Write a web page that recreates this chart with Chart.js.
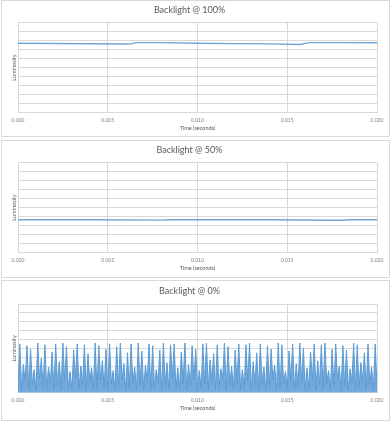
<!DOCTYPE html>
<html>
<head>
<meta charset="utf-8">
<script src="https://cdn.jsdelivr.net/npm/chart.js@4"></script>
<style>
    html, body { margin: 0; padding: 0; background: #fff; }
    .panel { position: absolute; left: 1px; width: 389px; box-sizing: border-box; border: 1px solid #d9d9d9; background: #fff; }
    .panel canvas { display: block; }
</style>
</head>
<body>
<div class="panel" style="top:0px;height:137px;"><canvas id="chart100"></canvas></div>
<div class="panel" style="top:140px;height:138px;"><canvas id="chart50"></canvas></div>
<div class="panel" style="top:280px;height:141px;"><canvas id="chart0"></canvas></div>
<script>
// x ticks shown on every panel
const xTicks = [0, 0.005, 0.010, 0.015, 0.020];

// Backlight @ 100% - nearly flat line
const t100 = [0, 0.002, 0.004, 0.006, 0.0063, 0.0066, 0.008, 0.010, 0.012, 0.014, 0.0157, 0.0162, 0.018, 0.020];
const lum100 = [7.73, 7.70, 7.67, 7.64, 7.66, 7.79, 7.79, 7.72, 7.68, 7.65, 7.58, 7.79, 7.79, 7.78];

// Backlight @ 50%
const t50 = [0, 0.004, 0.008, 0.0085, 0.010, 0.014, 0.0175, 0.018, 0.0185, 0.020];
const lum50 = [3.63, 3.62, 3.58, 3.62, 3.63, 3.62, 3.56, 3.57, 3.62, 3.63];

// Backlight @ 0% - flicker, sampled every 0.0001 s
const dt0 = 0.0001;
const lum0 = [
    0.5, 5.5, 0.3, 3.2, 1.2, 5.3, 0.4, 4.9, 0.9, 2.6, 0.3, 5.6, 1.5, 3.9, 0.5, 5.4, 0.3, 2.9, 1.1, 4.6,
    0.4, 5.5, 0.8, 3.5, 0.3, 5.6, 1.3, 5.2, 0.5, 2.4, 0.3, 4.8, 1.6, 5.5, 0.4, 3.0, 0.9, 5.4, 0.3, 4.4,
    1.2, 2.8, 0.4, 5.6, 0.3, 5.3, 1.4, 3.6, 0.5, 4.9, 0.3, 5.5, 1.0, 2.5, 0.4, 5.2, 0.6, 5.6, 1.5, 3.3,
    0.3, 4.5, 0.5, 5.5, 1.1, 2.9, 0.3, 5.6, 0.8, 4.7, 0.4, 3.1, 1.3, 5.5, 0.3, 5.3, 0.6, 2.6, 1.2, 4.8,
    0.3, 5.6, 0.9, 3.4, 0.4, 5.4, 1.6, 5.5, 0.3, 2.8, 0.5, 4.6, 1.1, 5.6, 0.3, 3.2, 0.7, 5.3, 1.4, 4.9,
    0.3, 2.5, 0.5, 5.5, 1.0, 5.6, 0.4, 3.7, 1.3, 4.4, 0.3, 5.4, 0.6, 2.7, 1.5, 5.6, 0.3, 5.2, 0.8, 3.0,
    0.4, 4.8, 1.2, 5.5, 0.3, 2.6, 0.5, 5.4, 1.4, 5.6, 0.3, 3.5, 0.9, 4.5, 0.4, 5.5, 1.1, 2.9, 0.3, 5.3,
    0.6, 4.9, 1.5, 3.1, 0.3, 5.6, 0.5, 5.4, 1.0, 2.4, 0.4, 4.7, 1.3, 5.5, 0.3, 3.3, 0.7, 5.6, 1.2, 5.0,
    0.3, 2.8, 0.5, 4.6, 1.4, 5.5, 0.3, 3.6, 0.9, 5.4, 0.4, 5.6, 1.1, 2.5, 0.3, 4.9, 0.6, 5.5, 1.5, 3.0,
    0.3, 5.3, 0.8, 4.8, 0.4, 2.7, 1.2, 5.6, 0.3, 5.4, 0.5, 3.4, 1.3, 4.5, 0.3, 5.5, 0.9, 2.9, 0.4, 5.5,
    0.6
];
const t0 = lum0.map((v, i) => i * dt0);

const blue = '#5b9bd5';
const gridGray = '#d9d9d9';
const fontFam = 'Lato, "Open Sans", sans-serif';

function makeChart(id, title, xs, ys, extra) {
    const points = xs.map((x, i) => ({ x: x, y: ys[i] }));
    return new Chart(document.getElementById(id), {
        type: 'line',
        data: {
            datasets: [Object.assign({
                data: points,
                borderColor: '#6fa5d8',
                borderWidth: 1.4,
                pointRadius: 0,
                tension: 0,
                fill: false,
            }, extra.dataset)],
        },
        options: {
            responsive: true,
            maintainAspectRatio: false,
            animation: false,
            layout: {
                padding: { left: 0, right: 12, top: 0, bottom: extra.bottomPad }
            },
            plugins: {
                legend: { display: false },
                tooltip: { enabled: false },
                title: {
                    display: true,
                    text: title,
                    color: '#595959',
                    font: { family: fontFam, size: 9, weight: 'normal', lineHeight: 1.2 },
                    padding: { top: extra.titleTop, bottom: extra.chartTop - extra.titleTop - 10.8 }
                }
            },
            scales: {
                x: {
                    type: 'linear',
                    min: 0,
                    max: 0.02,
                    afterBuildTicks: axis => { axis.ticks = xTicks.map(v => ({ value: v })); },
                    afterFit: axis => { axis.height = 24; },
                    ticks: {
                        color: '#7f7f7f',
                        font: { family: fontFam, size: 5 },
                        padding: 5,
                        maxRotation: 0,
                        callback: v => v.toFixed(3)
                    },
                    grid: { color: gridGray, drawTicks: false },
                    border: { color: gridGray },
                    title: {
                        display: true,
                        text: 'Time (seconds)',
                        color: '#595959',
                        font: { family: fontFam, size: 5.5, lineHeight: 1.2 },
                        padding: { top: 0, bottom: 4.7 }
                    }
                },
                y: {
                    min: 0,
                    max: 10,
                    afterFit: axis => { axis.width = 16; },
                    ticks: { display: false, stepSize: 1 },
                    grid: { color: gridGray, drawTicks: false },
                    border: { color: gridGray },
                    title: {
                        display: true,
                        text: 'Luminosity',
                        color: '#595959',
                        font: { family: fontFam, size: 5.5, lineHeight: 1.2 },
                        padding: { top: 8.5, bottom: 0 }
                    }
                }
            }
        }
    });
}

makeChart('chart100', 'Backlight @ 100%', t100, lum100, {
    titleTop: 3.6, chartTop: 22, bottomPad: 0, dataset: {}
});
makeChart('chart50', 'Backlight @ 50%', t50, lum50, {
    titleTop: 3.6, chartTop: 22, bottomPad: 1, dataset: {}
});
makeChart('chart0', 'Backlight @ 0%', t0, lum0, {
    titleTop: 4.2, chartTop: 23, bottomPad: 3.3,
    dataset: { borderColor: blue, borderWidth: 1, fill: 'origin', backgroundColor: 'rgba(91,155,213,0.85)' }
});
</script>
</body>
</html>
